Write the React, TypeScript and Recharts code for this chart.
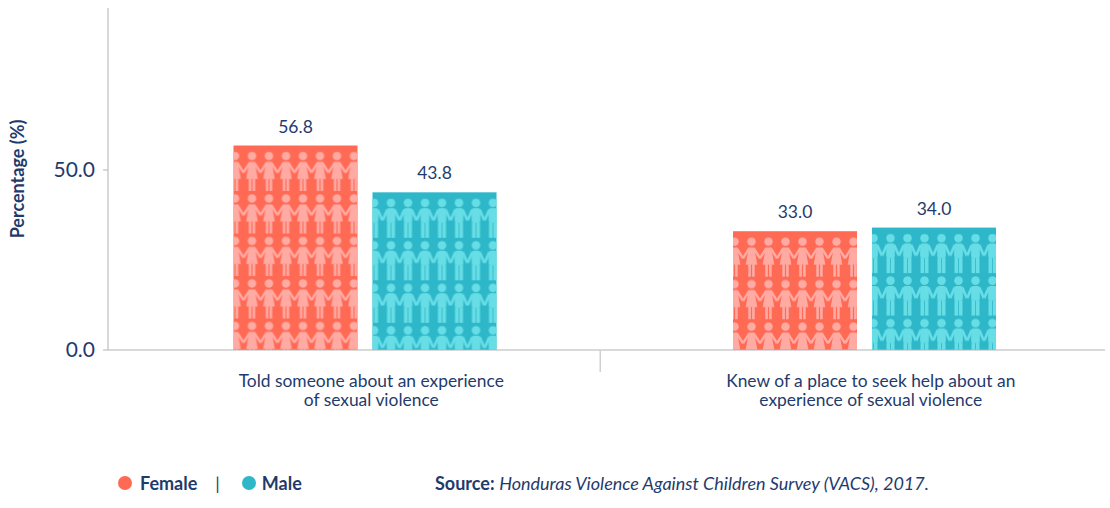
import { BarChart, Bar, XAxis, YAxis, LabelList } from "recharts"

const categories = ["told", "knew"]
const tickLabels = [
  ["Told someone about an experience", "of sexual violence"],
  ["Knew of a place to seek help about an", "experience of sexual violence"],
]
const femaleValues = [56.8, 33.0]
const maleValues = [43.8, 34.0]
const yTicks = [0, 50]

const chartData = categories.map((c, i) => ({
  category: c,
  female: femaleValues[i],
  male: maleValues[i],
}))

const NAVY = "#1f3b6d"
const FONT = "'Source Sans Pro', Lato, sans-serif"
const AXIS = "#b3b3b3"

const FEMALE_BG = "#ff6a55"
const FEMALE_FG = "#ffaba4"
const MALE_BG = "#2db7c8"
const MALE_FG = "#67dde6"

type ShapeProps = { x?: number; y?: number; width?: number; height?: number; index?: number }

// little paper-doll girl, one per 17px tile
const FemaleFigure = () => (
  <g fill={FEMALE_FG} stroke="none">
    <circle cx={8.5} cy={4.5} r={4.2} />
    <polygon points="5.8,10.3 11.2,10.3 14.3,27.5 2.7,27.5" />
    <rect x={5.3} y={27} width={2.6} height={12.5} />
    <rect x={9.1} y={27} width={2.6} height={12.5} />
    <line x1={6.3} y1={11} x2={0} y2={21} stroke={FEMALE_FG} strokeWidth={2.4} />
    <line x1={10.7} y1={11} x2={17} y2={21} stroke={FEMALE_FG} strokeWidth={2.4} />
  </g>
)

const MaleFigure = () => (
  <g fill={MALE_FG} stroke="none">
    <circle cx={8.5} cy={4.5} r={4.3} />
    <rect x={4.2} y={10} width={8.6} height={14.5} rx={2} />
    <rect x={4.5} y={24} width={3.6} height={15.5} />
    <rect x={8.9} y={24} width={3.6} height={15.5} />
    <line x1={4.8} y1={11.5} x2={0.2} y2={22} stroke={MALE_FG} strokeWidth={2.7} />
    <line x1={12.2} y1={11.5} x2={16.8} y2={22} stroke={MALE_FG} strokeWidth={2.7} />
  </g>
)

const makeShape = (kind: "female" | "male") => (props: ShapeProps) => {
  const { x = 0, y = 0, width = 0, height = 0, index = 0 } = props
  const id = `${kind}-people-${index}`
  const top = 6
  return (
    <g>
      <defs>
        <pattern
          id={id}
          patternUnits="userSpaceOnUse"
          x={x - 7}
          y={y + top}
          width={17}
          height={42.5}
        >
          {kind === "female" ? <FemaleFigure /> : <MaleFigure />}
        </pattern>
      </defs>
      <rect x={x} y={y} width={width} height={height} fill={kind === "female" ? FEMALE_BG : MALE_BG} />
      <rect x={x} y={y + top} width={width} height={Math.max(0, height - top)} fill={`url(#${id})`} />
    </g>
  )
}

const FemaleBar = makeShape("female")
const MaleBar = makeShape("male")

const CategoryTick = (props: any) => {
  const { x, y, payload, index } = props
  const lines = tickLabels[index] ?? [payload.value]
  return (
    <g>
      {index === 0 && <line x1={x + 235} y1={y - 8} x2={x + 235} y2={y + 14} stroke="#d0d0d0" strokeWidth={1.5} />}
      <text x={x + 6} y={y + 29} textAnchor="middle" fill={NAVY} fontSize={17.4} fontFamily={FONT}>
        {lines.map((l: string, i: number) => (
          <tspan key={i} x={x + 6} dy={i === 0 ? 0 : 19}>
            {l}
          </tspan>
        ))}
      </text>
    </g>
  )
}

export default function App() {
  return (
    <div style={{ position: "absolute", left: 0, top: 0, width: 1110, height: 508, background: "#fff", fontFamily: FONT }}>
      <BarChart
        width={1110}
        height={420}
        data={chartData}
        margin={{ top: 8, right: 5, left: 0, bottom: 0 }}
        barSize={124}
        barGap={15}
      >
        <YAxis
          width={108}
          domain={[0, 95]}
          ticks={yTicks}
          tickFormatter={(v: number) => v.toFixed(1)}
          tick={{ fill: NAVY, fontSize: 21, fontFamily: FONT }}
          tickSize={5}
          tickMargin={8}
          stroke={AXIS}
          axisLine={{ stroke: AXIS }}
          tickLine={{ stroke: AXIS }}
          label={{
            content: (p: any) => {
              const vb = p.viewBox || {}
              const cy = (vb.y ?? 8) + (vb.height ?? 342) / 2
              return (
                <text
                  x={17}
                  y={cy}
                  transform={`rotate(-90, 17, ${cy})`}
                  textAnchor="middle"
                  dominantBaseline="central"
                  fill={NAVY}
                  fontSize={18}
                  fontWeight="bold"
                  fontFamily={FONT}
                >
                  Percentage (%)
                </text>
              )
            },
          }}
        />
        <XAxis
          dataKey="category"
          height={70}
          padding={{ left: 7.5, right: -9.5 }}
          axisLine={{ stroke: AXIS }}
          tickLine={false}
          interval={0}
          tick={<CategoryTick />}
        />
        <Bar dataKey="female" shape={FemaleBar} isAnimationActive={false}>
          <LabelList
            dataKey="female"
            position="top"
            offset={13}
            formatter={(v: any) => Number(v).toFixed(1)}
            fill={NAVY}
            fontSize={17.5}
            fontFamily={FONT}
          />
        </Bar>
        <Bar dataKey="male" shape={MaleBar} isAnimationActive={false}>
          <LabelList
            dataKey="male"
            position="top"
            offset={13}
            formatter={(v: any) => Number(v).toFixed(1)}
            fill={NAVY}
            fontSize={17.5}
            fontFamily={FONT}
          />
        </Bar>
      </BarChart>

      <div
        style={{
          position: "absolute",
          top: 471,
          left: 118,
          display: "flex",
          alignItems: "center",
          height: 24,
          color: NAVY,
          fontSize: 18,
        }}
      >
        <span style={{ width: 14, height: 14, borderRadius: 7, background: FEMALE_BG, display: "inline-block" }} />
        <span style={{ fontWeight: "bold", marginLeft: 8 }}>Female</span>
        <span style={{ marginLeft: 18, marginRight: 22 }}>|</span>
        <span style={{ width: 14, height: 14, borderRadius: 7, background: MALE_BG, display: "inline-block" }} />
        <span style={{ fontWeight: "bold", marginLeft: 6 }}>Male</span>
      </div>
      <div style={{ position: "absolute", top: 471, left: 435, height: 24, lineHeight: "24px", color: NAVY, fontSize: 18 }}>
        <b>Source:</b> <i>Honduras Violence Against Children Survey (VACS), 2017.</i>
      </div>
    </div>
  )
}
